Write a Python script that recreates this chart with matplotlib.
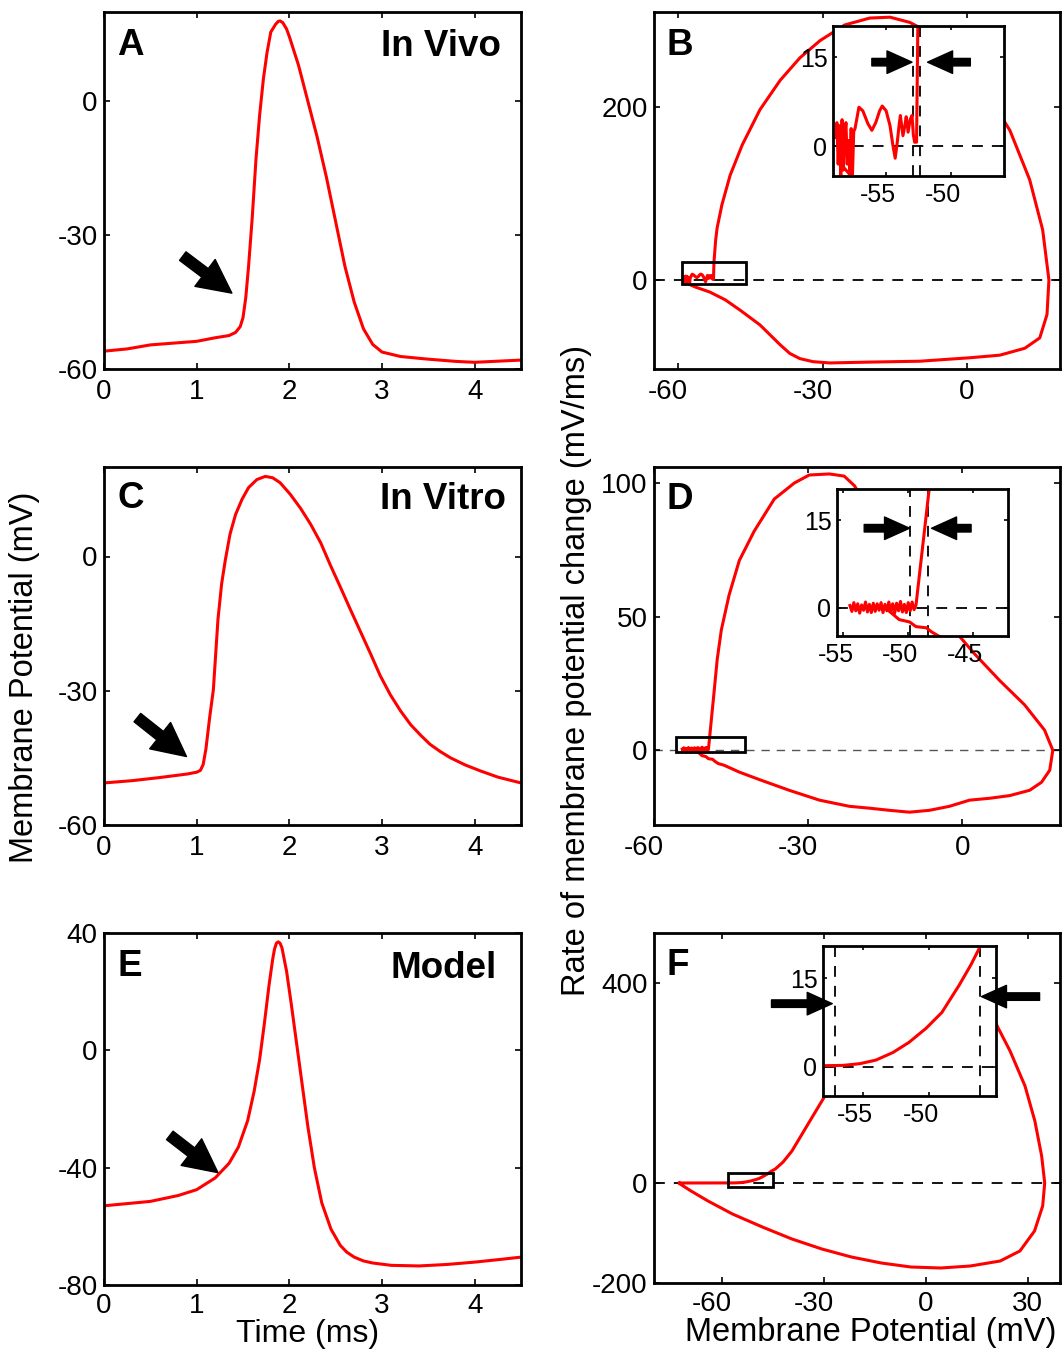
import matplotlib
matplotlib.use("Agg")
import matplotlib.pyplot as plt
from matplotlib.patches import Rectangle
from matplotlib.transforms import ScaledTranslation

plt.rcParams['font.family'] = ['Liberation Sans', 'DejaVu Sans']
plt.rcParams['axes.unicode_minus'] = False

# ---------------- data ----------------
# Panel A: In Vivo time trace (ms, mV)
a_t = [0, 0.25, 0.5, 0.75, 1.0, 1.2, 1.35, 1.42, 1.47, 1.5, 1.53, 1.56, 1.6, 1.64, 1.68, 1.72, 1.76, 1.8,
       1.85, 1.88, 1.9, 1.93, 1.97, 2.0, 2.1, 2.2, 2.3, 2.4, 2.5, 2.6, 2.7, 2.8, 2.9, 3.0, 3.2, 3.5, 3.8,
       4.0, 4.2, 4.5]
a_v = [-56, -55.5, -54.6, -54.2, -53.8, -53, -52.5, -51.8, -50.5, -48.5, -44, -37, -26, -13, -3, 5, 11, 15.5,
       17.2, 17.9, 18, 17.6, 16.2, 14.5, 8, 0, -8, -17, -27, -37, -45, -51, -54.5, -56.2, -57.2, -57.8, -58.3,
       -58.5, -58.3, -58]

# Panel C: In Vitro time trace
c_t = [0, 0.3, 0.6, 0.9, 1.0, 1.04, 1.07, 1.1, 1.14, 1.18, 1.23, 1.27, 1.31, 1.36, 1.42, 1.49, 1.56, 1.65,
       1.74, 1.82, 1.9, 2.01, 2.12, 2.23, 2.34, 2.44, 2.55, 2.66, 2.77, 2.88, 2.98, 3.09, 3.2, 3.31, 3.42,
       3.52, 3.63, 3.74, 3.9, 4.06, 4.25, 4.5]
c_v = [-50.6, -50.1, -49.4, -48.6, -48.2, -47.8, -46.5, -43, -36, -29.8, -14, -6, -0.7, 5, 9.4, 12.8, 15.4,
       17.2, 17.9, 17.6, 16.5, 13.9, 10.8, 7.2, 3.0, -1.8, -6.8, -11.9, -16.9, -21.9, -26.6, -30.9, -34.5,
       -37.6, -40.0, -42, -43.6, -45, -46.6, -47.9, -49.3, -50.6]

# Panel E: Model time trace
e_t = [0, 0.5, 0.8, 1.0, 1.2, 1.35, 1.45, 1.55, 1.62, 1.68, 1.73, 1.78, 1.82, 1.84, 1.86, 1.88, 1.9, 1.92,
       1.97, 2.02, 2.08, 2.14, 2.2, 2.27, 2.35, 2.45, 2.55, 2.62, 2.7, 2.8, 2.9, 3.1, 3.4, 3.7, 4.0, 4.3, 4.5]
e_v = [-53, -51.5, -49.5, -47.5, -43.5, -38.5, -33, -24, -14, -3, 9, 22, 31, 34.5, 36.5, 37, 36.5, 35,
       27, 16, 2, -12, -26, -40, -52, -61, -66.5, -68.8, -70.5, -71.8, -72.5, -73.3, -73.5, -73, -72.2,
       -71.2, -70.5]

# Panel B: In Vivo phase plot (mV, mV/ms)
b_v = [-58.9, -58.8, -58.7, -58.6, -58.5, -58.4, -58.3, -58.2, -58.1, -58.0, -57.9, -57.8, -57.7, -57.6,
       -57.5, -57.4, -57.1, -56.8, -56.4, -56.1, -55.8, -55.5, -55.3, -55.0, -54.7, -54.5, -54.3, -54.15,
       -54.0, -53.9, -53.8, -53.7, -53.55, -53.45, -53.3, -53.15, -53.0, -52.9, -52.8, -52.65, -52.55,
       -52.2, -51.9, -50.9, -49.2, -46.7, -43, -38.8, -34.7, -30.5, -25.4, -20.2, -16, -11.9, -6.7, -1.5,
       3.7, 8.9, 13, 15.7, 17, 16.6, 15.1, 12, 6.8, 0.6, -9.8, -20.2, -28.5, -32, -34.7, -36.8, -38.8,
       -43, -47.1, -50.2, -53.4, -56.5, -58.3]
b_d = [1.5, 4.0, -3.0, 3.5, -5.0, 4.5, -4.0, 2.0, 4.0, -3.0, 1.0, -4.5, 3.0, -5.0,
       2.5, 3.0, 6.6, 6.0, 3.8, 2.7, 4.0, 6.0, 6.8, 6.0, 3.5, 0.5, -2.0, 0.5,
       3.5, 5.2, 3.5, 1.8, 3.5, 5.0, 2.4, 4.5, 5.2, 2.0, 0.7, 0.7, 20.5,
       46, 60, 87, 121, 156, 197, 231, 257, 277, 295, 303, 304, 298, 283, 257,
       220, 173, 116, 58, 0, -40, -67, -79, -87, -90, -94, -95, -96, -94.5, -91, -85, -75,
       -52, -35, -23, -14, -8, -3.5]

# Panel D: In Vitro phase plot
d_v = [-54.5, -54.35, -54.2, -54.05, -53.9, -53.75, -53.6, -53.45, -53.3, -53.15, -53.0, -52.85, -52.7,
       -52.55, -52.4, -52.25, -52.1, -51.95, -51.8, -51.65, -51.5, -51.35, -51.2, -51.05, -50.9, -50.75,
       -50.6, -50.45, -50.3, -50.15, -50.0, -49.85, -49.7, -49.55, -49.4, -48.4, -47.7, -46.9, -45.4,
       -43.4, -40.5, -36.6, -32.7, -29.8, -25.9, -23, -21, -18.1, -14.2, -10.3, -6.4, -2.5, 2.4, 7.3, 12.1,
       16, 17.6, 17, 15.4, 13.1, 9.2, 5.3, 1.4, -2.5, -6.4, -10.3, -14.2, -18.1, -22, -27.8, -33.7, -39.5,
       -43.4, -46.4, -47.5, -48.2, -48.6, -49.4, -49.9, -50.7, -51.5]
d_d = [0.4, -0.6, 0.9, -0.5, 0.7, -0.9, 0.5, -0.4, 1.0, -0.7, 0.6, -0.8, 0.8, -0.6, 0.7, -0.4,
       0.9, -0.8, 0.6, -0.5, 1.0, -0.6, 0.7, -0.9, 0.8, -0.5, 1.1, -0.7, 0.6, -0.8, 0.9, -0.5, 1.0, -0.3,
       0.5, 20, 34, 45, 58, 71, 82, 94, 100, 103, 103.4, 102.6, 99, 90, 79, 67, 56, 47, 36, 26, 17,
       7.5, 0, -7.5, -12, -15, -17, -18, -18.7, -21, -22.5, -23.2, -22.5, -21.7, -21, -18.7, -15, -11,
       -8.2, -5.6, -5.0, -4.1, -3.4, -3.2, -2.4, -2.0, -0.5]

# Panel F: Model phase plot
f_v = [-72.5, -68, -64, -60, -58, -56.5, -55.2, -54, -52.7, -51.5, -50.2, -49, -47.7, -46.8, -46.1,
       -45.5, -44.3, -42, -39.4, -35, -29.7, -25, -15, -5, 5, 12, 18, 21, 24.8, 29.2, 32.1, 34.1, 35,
       34.4, 32, 27.7, 21.9, 13.1, 4.4, -4.4, -13.1, -21.9, -30.6, -39.4, -48.1, -56.9, -64.1, -69.1,
       -72.3, -72.5]
f_d = [0, 0.05, 0.08, 0.12, 0.15, 0.2, 0.5, 1.1, 2.4, 4.1, 6.5, 9.2, 13.8, 17.3, 20.4,
       23.5, 28, 42, 64, 114, 174, 240, 340, 410, 440, 420, 370, 314, 264, 194, 124, 54, 0,
       -46, -96, -136, -156, -166, -170, -168, -160, -148, -132, -112, -88, -62, -36, -16,
       -2, 0]

# ---------------- layout ----------------
W, H = 1062, 1349
fig = plt.figure(figsize=(W / 100, H / 100), dpi=100)


def ax_at(x0, x1, y0, y1):
    return fig.add_axes([x0 / W, 1 - y1 / H, (x1 - x0) / W, (y1 - y0) / H])


RED = '#ff0000'
LW = 2.2
BOLD = 26.5


def style(ax, fs=20, lw=2.0, tl=4, xpad=7, ypad=4.5):
    for s in ax.spines.values():
        s.set_linewidth(lw)
    ax.tick_params(direction='in', length=tl, width=1.2, labelsize=fs, top=True, right=True)
    ax.tick_params(axis='x', pad=xpad)
    ax.tick_params(axis='y', pad=ypad)


def shift_negative_xlabels(ax, px):
    off = ScaledTranslation(-px / 100, 0, fig.dpi_scale_trans)
    for loc, tick in zip(ax.get_xticks(), ax.xaxis.get_major_ticks()):
        if loc < 0:
            tick.label1.set_transform(tick.label1.get_transform() + off)


axA = ax_at(104, 521, 12, 369)
axC = ax_at(104, 521, 467, 825)
axE = ax_at(104, 521, 933, 1285)
axB = ax_at(654, 1060, 12, 369)
axD = ax_at(654, 1060, 467, 825)
axF = ax_at(654, 1060, 933, 1283)

for ax, t, v, yl, yt, xp in [(axA, a_t, a_v, (-60, 20), [-60, -30, 0], 7),
                             (axC, c_t, c_v, (-60, 20), [-60, -30, 0], 7),
                             (axE, e_t, e_v, (-80, 40), [-80, -40, 0, 40], 5.5)]:
    ax.plot(t, v, color=RED, lw=LW, solid_joinstyle='round')
    ax.set_xlim(0, 4.5)
    ax.set_ylim(*yl)
    ax.set_xticks([0, 1, 2, 3, 4])
    ax.set_yticks(yt)
    style(ax, xpad=xp)

arrow_kw = dict(arrowstyle='simple,head_length=1.1,head_width=1.1,tail_width=0.35',
                color='black', mutation_scale=22, shrinkA=0, shrinkB=0)
axA.annotate('', xy=(1.38, -43), xytext=(0.85, -34.7), arrowprops=arrow_kw)
axC.annotate('', xy=(0.89, -44.7), xytext=(0.36, -36), arrowprops=arrow_kw)
axE.annotate('', xy=(1.23, -41.7), xytext=(0.71, -29), arrowprops=arrow_kw)

for ax, letter, label, ly, rx in [(axA, 'A', 'In Vivo', 0.903, 0.952), (axC, 'C', 'In Vitro', 0.908, 0.963),
                                  (axE, 'E', 'Model', 0.9, 0.943)]:
    ax.text(0.032, ly + 0.004, letter, transform=ax.transAxes, fontsize=BOLD, fontweight='bold',
            va='center', ha='left')
    ax.text(rx, ly, label, transform=ax.transAxes, fontsize=BOLD, fontweight='bold', va='center', ha='right')

# phase plots
for ax, v, d, xl, yl, xt, yt, dash_col, dash_lw, xp in [
        (axB, b_v, b_d, (-65, 19.3), (-103, 310), [-60, -30, 0], [0, 200], 'black', 1.3, 7),
        (axD, d_v, d_d, (-60, 19), (-28, 106), [-60, -30, 0], [0, 50, 100], '#555555', 1.0, 7),
        (axF, f_v, f_d, (-80, 39.5), (-200, 500), [-60, -30, 0, 30], [-200, 0, 400], 'black', 1.3, 6)]:
    ax.axhline(0, color=dash_col, lw=dash_lw, ls=(0, (6, 5)), zorder=1)
    ax.plot(v, d, color=RED, lw=LW, zorder=2, solid_joinstyle='round')
    ax.set_xlim(*xl)
    ax.set_ylim(*yl)
    ax.set_xticks(xt)
    ax.set_yticks(yt)
    style(ax, xpad=xp)
    shift_negative_xlabels(ax, 10)

for ax, letter, ly in [(axB, 'B', 0.907), (axD, 'D', 0.91), (axF, 'F', 0.906)]:
    ax.text(0.03, ly, letter, transform=ax.transAxes, fontsize=BOLD, fontweight='bold', va='center', ha='left')

# boxes marking the zoomed regions
box_lims = {
    'B': ((-59.1, -45.9), (-4.6, 20.8)),
    'D': ((-55.7, -42.3), (-0.7, 4.9)),
    'F': ((-58.2, -45.0), (-8, 20)),
}
for ax, key in [(axB, 'B'), (axD, 'D'), (axF, 'F')]:
    (x0, x1), (y0, y1) = box_lims[key]
    ax.add_patch(Rectangle((x0, y0), x1 - x0, y1 - y0, fill=False, lw=2.0, ec='black', zorder=3))

# insets
inset_lims = {
    'B': ((-59.1, -45.9), (-5, 20.3)),
    'D': ((-55.5, -42.3), (-4.8, 20.3)),
    'F': ((-58.0, -44.9), (-5, 20.5)),
}
inB = ax_at(833, 1004, 26, 176)
inD = ax_at(837, 1008, 489, 636)
inF = ax_at(823, 996, 946, 1096)

inset_cfg = [
    (inB, b_v, b_d, 'B', [-55, -50], [-52.9, -52.4],
     ((-56.1, 14.2), (-53.0, 14.2)), ((-48.5, 14.2), (-51.8, 14.2))),
    (inD, d_v, d_d, 'D', [-55, -50, -45], [-49.85, -48.5],
     ((-53.4, 13.6), (-49.9, 13.6)), ((-45.15, 13.6), (-48.2, 13.6))),
    (inF, f_v, f_d, 'F', [-55, -50], [-57.1, -46.1],
     ((-61.9, 10.7), (-57.3, 10.7)), ((-41.6, 11.9), (-46.0, 11.9))),
]
small_arrow = dict(arrowstyle='simple,head_length=1.0,head_width=0.9,tail_width=0.3',
                   color='black', mutation_scale=18, shrinkA=0, shrinkB=0)
for ax, v, d, key, xt, vlines, arrL, arrR in inset_cfg:
    (x0, x1), (y0, y1) = inset_lims[key]
    ax.axhline(0, color='black', lw=1.3, ls=(0, (6, 5)), zorder=1)
    for xv in vlines:
        ax.axvline(xv, color='black', lw=1.3, ls=(0, (6, 5)), zorder=1)
    ax.plot(v, d, color=RED, lw=LW, zorder=2, solid_joinstyle='round')
    ax.set_xlim(x0, x1)
    ax.set_ylim(y0, y1)
    ax.set_xticks(xt)
    ax.set_yticks([0, 15])
    style(ax, fs=18, lw=2.0, tl=3, xpad=5, ypad=4)
    shift_negative_xlabels(ax, 8)
    ax.annotate('', xy=arrL[1], xytext=arrL[0], arrowprops=small_arrow, annotation_clip=False)
    ax.annotate('', xy=arrR[1], xytext=arrR[0], arrowprops=small_arrow, annotation_clip=False)

# axis labels
fig.text(308 / W, 1 - 1342 / H, 'Time (ms)', fontsize=23, ha='center', va='baseline')
fig.text(871 / W, 1 - 1341 / H, 'Membrane Potential (mV)', fontsize=23.5, ha='center', va='baseline')
fig.text(25 / W, 1 - 677 / H, 'Membrane Potential (mV)', fontsize=23.5, ha='center', va='center', rotation=90)
fig.text(577 / W, 1 - 671 / H, 'Rate of membrane potential change (mV/ms)', fontsize=23.5, ha='center',
         va='center', rotation=90)

fig.savefig('out.png', dpi=100)
